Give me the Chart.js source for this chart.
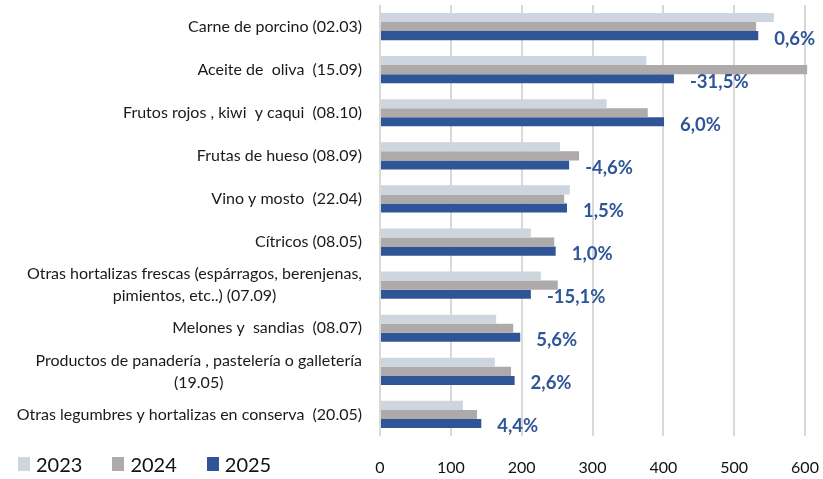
<!DOCTYPE html>
<html lang="es">
<head>
    <meta charset="UTF-8">
    <title>Comparativa por producto</title>
    <script src="https://cdn.jsdelivr.net/npm/chart.js"></script>
    <style>
        body {
            margin: 0;
            background: #ffffff;
            font-family: Lato, "Open Sans", sans-serif;
        }
        .wrap {
            position: relative;
            width: 823px;
            height: 479px;
        }
        .legend {
            position: absolute;
            left: 18px;
            top: 452px;
            display: flex;
            align-items: center;
            font-size: 20px;
            color: #111;
        }
        .legend span.item {
            display: flex;
            align-items: center;
            margin-right: 30px;
        }
        .legend i {
            display: inline-block;
            width: 12px;
            height: 14px;
            margin-right: 6px;
        }
    </style>
</head>
<body>
    <div class="wrap">
        <canvas id="chart" width="823" height="479"></canvas>
        <div class="legend" id="legend"></div>
    </div>

    <script>
        // Categories (top to bottom)
        const categories = [
            'Carne de porcino (02.03)',
            'Aceite de  oliva  (15.09)',
            'Frutos rojos , kiwi  y caqui  (08.10)',
            'Frutas de hueso (08.09)',
            'Vino y mosto  (22.04)',
            'Cítricos (08.05)',
            ['Otras hortalizas frescas (espárragos, berenjenas,', 'pimientos, etc..) (07.09)'],
            'Melones y  sandias  (08.07)',
            ['Productos de panadería , pastelería o galletería', '(19.05)'],
            'Otras legumbres y hortalizas en conserva  (20.05)'
        ];

        const seriesNames = ['2023', '2024', '2025'];
        const values2023 = [556, 376, 320, 254, 268, 213, 227, 164, 162, 117];
        const values2024 = [531, 603, 378, 281, 260, 246, 251, 188, 185, 137];
        const values2025 = [534, 415, 401, 267, 264, 248, 213, 198, 190, 143];
        const changeLabels = ['0,6%', '-31,5%', '6,0%', '-4,6%', '1,5%', '1,0%', '-15,1%', '5,6%', '2,6%', '4,4%'];
        const xTicks = [0, 100, 200, 300, 400, 500, 600];

        const colors = ['#cdd5df', '#aeaaaa', '#2f5597'];
        const fontFamily = 'Lato, "Open Sans", sans-serif';

        // category labels, right-aligned block, lines centred within it
        const categoryLabels = {
            id: 'categoryLabels',
            afterDraw(chart) {
                const ctx = chart.ctx;
                const yScale = chart.scales.y;
                ctx.save();
                ctx.font = '16px ' + fontFamily;
                ctx.fillStyle = '#1a1a1a';
                ctx.textBaseline = 'middle';
                ctx.textAlign = 'center';
                const right = chart.chartArea.left - 18;
                const lineHeight = 22;
                chart.data.labels.forEach((label, i) => {
                    const lines = Array.isArray(label) ? label : [label];
                    const blockW = Math.max(...lines.map(l => ctx.measureText(l).width));
                    const cy = yScale.getPixelForValue(i);
                    lines.forEach((line, j) => {
                        const y = cy + (j - (lines.length - 1) / 2) * lineHeight;
                        ctx.fillText(line, right - blockW / 2, y);
                    });
                });
                ctx.restore();
            }
        };

        // change labels beside the 2025 bars
        const changeLabelPlugin = {
            id: 'changeLabels',
            afterDatasetsDraw(chart) {
                const ctx = chart.ctx;
                const meta = chart.getDatasetMeta(2);
                ctx.save();
                ctx.font = 'bold 18.5px ' + fontFamily;
                ctx.fillStyle = '#2f5597';
                ctx.textAlign = 'left';
                ctx.textBaseline = 'middle';
                meta.data.forEach((bar, i) => {
                    ctx.fillText(changeLabels[i], bar.x + 16, bar.y + 3);
                });
                ctx.restore();
            }
        };

        new Chart(document.getElementById('chart'), {
            type: 'bar',
            data: {
                labels: categories,
                datasets: [
                    { label: seriesNames[0], data: values2023, backgroundColor: colors[0] },
                    { label: seriesNames[1], data: values2024, backgroundColor: colors[1] },
                    { label: seriesNames[2], data: values2025, backgroundColor: colors[2] }
                ]
            },
            options: {
                indexAxis: 'y',
                responsive: false,
                animation: false,
                layout: { padding: { left: 0, right: 0, top: 5, bottom: 0 } },
                datasets: {
                    bar: { categoryPercentage: 0.63, barPercentage: 1.0, clip: false }
                },
                scales: {
                    x: {
                        min: 0,
                        max: 600,
                        afterBuildTicks(scale) {
                            scale.ticks = xTicks.map(v => ({ value: v }));
                        },
                        afterFit(scale) {
                            scale.height = 43;
                            scale.paddingRight = 18;
                        },
                        grid: { color: '#d9d9d9', lineWidth: 2, drawTicks: false },
                        border: { display: false },
                        ticks: {
                            padding: 22,
                            color: '#111',
                            font: { family: fontFamily, size: 16 }
                        }
                    },
                    y: {
                        afterFit(scale) { scale.width = 380; },
                        grid: { display: false },
                        border: { display: false },
                        ticks: { display: false }
                    }
                },
                plugins: {
                    legend: { display: false },
                    tooltip: { enabled: false }
                }
            },
            plugins: [categoryLabels, changeLabelPlugin]
        });

        // legend in the bottom-left corner
        const legendEl = document.getElementById('legend');
        seriesNames.forEach((name, i) => {
            const item = document.createElement('span');
            item.className = 'item';
            const sw = document.createElement('i');
            sw.style.background = colors[i];
            item.appendChild(sw);
            item.appendChild(document.createTextNode(name));
            legendEl.appendChild(item);
        });
    </script>
</body>
</html>
